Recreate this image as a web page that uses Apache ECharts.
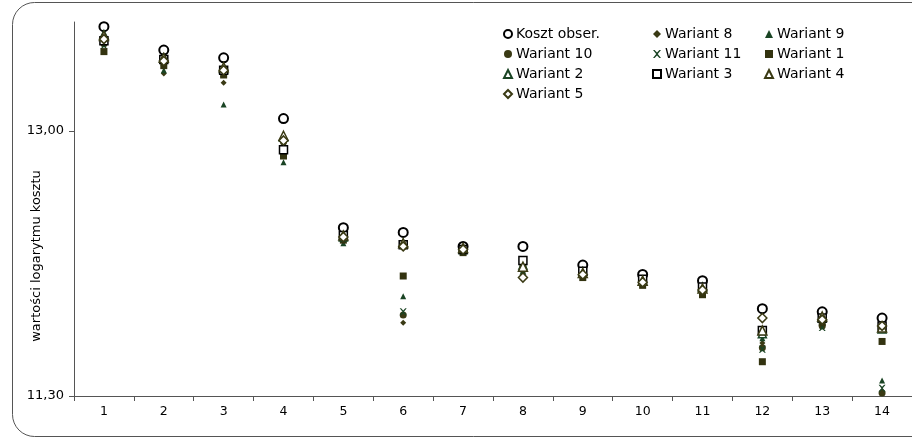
<!DOCTYPE html>
<html>
<head>
<meta charset="utf-8">
<script src="https://cdn.jsdelivr.net/npm/echarts@6/dist/echarts.min.js"></script>
<style>html,body{margin:0;padding:0;background:#fff}#c{width:912px;height:439px}</style>
</head>
<body>
<div id="c"></div>
<script>
const categories = ['1','2','3','4','5','6','7','8','9','10','11','12','13','14'];
const yTicks = [11.3, 13.0];
const kosztObser = [13.67, 13.52, 13.47, 13.08, 12.38, 12.35, 12.26, 12.26, 12.14, 12.08, 12.04, 11.86, 11.84, 11.80];
const wariant8  = [13.58, 13.37, 13.31, 12.95, 12.31, 11.77, 12.24, 12.12, 12.09, 12.03, 11.98, 11.64, 11.77, 11.33];
const wariant9  = [13.61, 13.39, 13.17, 12.80, 12.28, 11.94, 12.22, 12.10, 12.06, 12.02, 11.96, 11.67, 11.76, 11.40];
const wariant10 = [13.56, 13.45, 13.38, 12.93, 12.32, 11.82, 12.23, 12.11, 12.08, 12.02, 11.97, 11.61, 11.75, 11.32];
const wariant11 = [13.55, 13.44, 13.37, 12.92, 12.31, 11.84, 12.23, 12.10, 12.08, 12.02, 11.96, 11.60, 11.74, 11.35];
const wariant1  = [13.51, 13.42, 13.36, 12.84, 12.30, 12.07, 12.22, 12.13, 12.06, 12.01, 11.95, 11.52, 11.77, 11.65];
const wariant2  = [13.62, 13.47, 13.40, 12.96, 12.32, 12.28, 12.24, 12.14, 12.10, 12.04, 12.00, 11.70, 11.80, 11.73];
const wariant3  = [13.58, 13.46, 13.39, 12.88, 12.33, 12.27, 12.24, 12.17, 12.10, 12.05, 12.00, 11.72, 11.80, 11.75];
const wariant4  = [13.61, 13.47, 13.41, 12.97, 12.33, 12.28, 12.25, 12.13, 12.09, 12.04, 11.99, 11.72, 11.81, 11.74];
const wariant5  = [13.59, 13.45, 13.39, 12.94, 12.32, 12.26, 12.24, 12.06, 12.08, 12.03, 11.98, 11.80, 11.79, 11.75];

const OLIVE = '#3a3a14';
const GREEN = '#1a4424';
const XPATH = 'path://M0,0 L2,0 L5,3 L8,0 L10,0 L6,5 L10,10 L8,10 L5,7 L2,10 L0,10 L4,5 Z';
const FONT = 'DejaVu Sans';
const AXIS = '#555';

function s(name, data, symbol, size, style) {
  return { name, type: 'scatter', data, symbol, symbolSize: size,
    itemStyle: Object.assign({ opacity: 1 }, style), emphasis: { disabled: true } };
}
const series = [
  s('Koszt obser.', kosztObser, 'circle', 9, { color: '#fff', borderColor: '#000', borderWidth: 2 }),
  s('Wariant 8', wariant8, 'diamond', 6, { color: OLIVE }),
  s('Wariant 9', wariant9, 'triangle', 6, { color: GREEN }),
  s('Wariant 10', wariant10, 'circle', 7, { color: OLIVE }),
  s('Wariant 11', wariant11, XPATH, 7, { color: GREEN }),
  s('Wariant 1', wariant1, 'rect', 7, { color: '#333310' }),
  s('Wariant 2', wariant2, 'triangle', 8, { color: '#fff', borderColor: GREEN, borderWidth: 1.5 }),
  s('Wariant 3', wariant3, 'rect', 8, { color: '#fff', borderColor: '#000', borderWidth: 1.5 }),
  s('Wariant 4', wariant4, 'triangle', 9, { color: '#fff', borderColor: OLIVE, borderWidth: 1.5 }),
  s('Wariant 5', wariant5, 'diamond', 9, { color: '#fff', borderColor: OLIVE, borderWidth: 1.5 })
];

function leg(left, names) {
  return { orient: 'vertical', left, top: 22, itemGap: 6, itemWidth: 8, itemHeight: 8,
    textStyle: { fontFamily: FONT, fontSize: 14, color: '#000', padding: [0, 0, 0, -1] },
    data: names, selectedMode: false };
}

const chart = echarts.init(document.getElementById('c'), null, { renderer: 'canvas' });
chart.setOption({
  animation: false,
  backgroundColor: '#fff',
  textStyle: { fontFamily: FONT },
  grid: { left: 74, right: -3, top: 22, bottom: 43 },
  legend: [
    leg(498, ['Koszt obser.', 'Wariant 10', 'Wariant 2', 'Wariant 5']),
    leg(647, ['Wariant 8', 'Wariant 11', 'Wariant 3']),
    leg(759, ['Wariant 9', 'Wariant 1', 'Wariant 4'])
  ],
  xAxis: {
    type: 'category', data: categories, boundaryGap: true,
    axisLine: { lineStyle: { color: AXIS } },
    axisTick: { show: true, length: 5, inside: false, lineStyle: { color: AXIS } },
    axisLabel: { color: '#000', fontSize: 12.5, fontFamily: FONT, margin: 9 },
    splitLine: { show: false }
  },
  yAxis: {
    type: 'value', min: 11.3, max: 13.7,
    axisLine: { show: true, lineStyle: { color: AXIS } },
    axisTick: { show: true, length: 5, customValues: yTicks, lineStyle: { color: AXIS } },
    axisLabel: { color: '#000', fontSize: 13, fontFamily: FONT, margin: 10, customValues: yTicks,
      formatter: v => v.toFixed(2).replace('.', ',') },
    splitLine: { show: false }
  },
  graphic: [
    { type: 'rect', shape: { x: 12.5, y: 2.5, width: 930, height: 434, r: 22 }, silent: true, z: -1,
      style: { fill: null, stroke: '#555', lineWidth: 1 } },
    { type: 'text', x: 37, y: 256, rotation: Math.PI / 2, silent: true,
      style: { text: 'wartości logarytmu kosztu', fontFamily: FONT, fontSize: 13, fill: '#000', align: 'center', verticalAlign: 'middle' } }
  ],
  series
});
</script>
</body>
</html>
